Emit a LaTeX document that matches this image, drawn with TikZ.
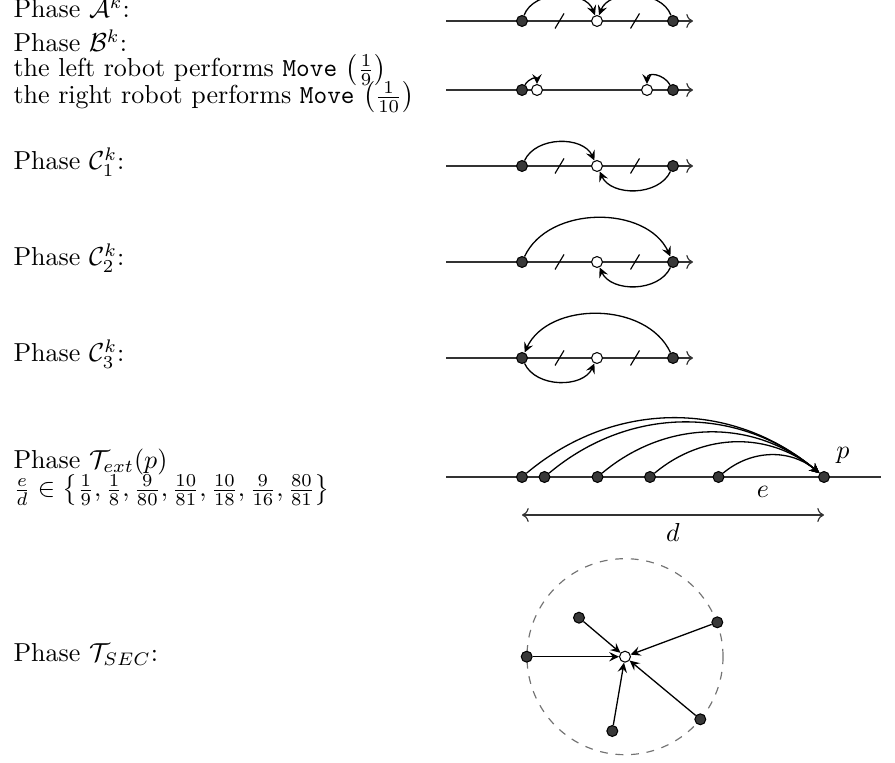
\documentclass[tikz,border=0pt]{standalone}
\usetikzlibrary{arrows.meta,calc}
\begin{document}
\begin{tikzpicture}[x=0.3846pt,y=0.3846pt,
  robot/.style={circle,draw=black,fill=black!78,minimum size=4.2pt,inner sep=0pt,line width=0.4pt},
  target/.style={circle,draw=black,fill=white,minimum size=4.2pt,inner sep=0pt,line width=0.4pt},
  axis/.style={draw=black!80,line width=0.45pt},
  mv/.style={line width=0.5pt,-{Stealth[length=3.8pt,width=3.6pt,inset=1.4pt]}},
  lbl/.style={anchor=base west,inner sep=0pt},
  tickm/.style={line width=0.45pt}]
\useasboundingbox (0,0) rectangle (895,762);

% ---------- Phase A
\node[lbl] (tA) at (13,744) {Phase $\mathcal{A}^k$:};
\coordinate (A0) at (446,741); \coordinate (A1) at (693,741);
\draw[axis,->] (A0) -- (A1);
\node[robot] (a1) at (522,741) {};
\node[target] (aw) at (597,741) {};
\node[robot] (a2) at (673,741) {};
\draw[tickm] ($(a1)!0.5!(aw)$) ++(-4.5,-7.5) -- ++(9,15);
\draw[tickm] ($(aw)!0.5!(a2)$) ++(-4.5,-7.5) -- ++(9,15);
\draw[mv] (a1) to[out=70,in=110] (aw);
\draw[mv] (a2) to[out=110,in=70] (aw);

% ---------- Phase B
\node[lbl] (tB) at (13,710) {Phase $\mathcal{B}^k$:};
\node[lbl] (tB1) at (13,685) {the left robot performs \texttt{Move} $\left(\frac{1}{9}\right)$};
\node[lbl] (tB2) at (13,658) {the right robot performs \texttt{Move} $\left(\frac{1}{10}\right)$};
\coordinate (B0) at (446,672); \coordinate (B1) at (693,672);
\draw[axis,->] (B0) -- (B1);
\node[robot] (b1) at (522,672) {};
\node[target] (bw1) at (537,672) {};
\node[target] (bw2) at (647,672) {};
\node[robot] (b2) at (673,672) {};
\draw[mv] (b1) to[out=60,in=90,looseness=1.6] (bw1);
\draw[mv] (b2) to[out=120,in=90,looseness=1.4] (bw2);

% ---------- Phase C1
\node[lbl] (tC1) at (13,592) {Phase $\mathcal{C}_1^k$:};
\coordinate (C10) at (446,596); \coordinate (C11) at (693,596);
\draw[axis,->] (C10) -- (C11);
\node[robot] (c1a) at (522,596) {};
\node[target] (c1w) at (597,596) {};
\node[robot] (c1b) at (673,596) {};
\draw[tickm] ($(c1a)!0.5!(c1w)$) ++(-4.5,-7.5) -- ++(9,15);
\draw[tickm] ($(c1w)!0.5!(c1b)$) ++(-4.5,-7.5) -- ++(9,15);
\draw[mv] (c1a) to[out=65,in=115] (c1w);
\draw[mv] (c1b) to[out=-115,in=-65] (c1w);

% ---------- Phase C2
\node[lbl] (tC2) at (13,496) {Phase $\mathcal{C}_2^k$:};
\coordinate (C20) at (446,500); \coordinate (C21) at (693,500);
\draw[axis,->] (C20) -- (C21);
\node[robot] (c2a) at (522,500) {};
\node[target] (c2w) at (597,500) {};
\node[robot] (c2b) at (673,500) {};
\draw[tickm] ($(c2a)!0.5!(c2w)$) ++(-4.5,-7.5) -- ++(9,15);
\draw[tickm] ($(c2w)!0.5!(c2b)$) ++(-4.5,-7.5) -- ++(9,15);
\draw[mv] (c2a) to[out=65,in=115] (c2b);
\draw[mv] (c2b) to[out=-115,in=-65] (c2w);

% ---------- Phase C3
\node[lbl] (tC3) at (13,400) {Phase $\mathcal{C}_3^k$:};
\coordinate (C30) at (446,404); \coordinate (C31) at (693,404);
\draw[axis,->] (C30) -- (C31);
\node[robot] (c3a) at (522,404) {};
\node[target] (c3w) at (597,404) {};
\node[robot] (c3b) at (673,404) {};
\draw[tickm] ($(c3a)!0.5!(c3w)$) ++(-4.5,-7.5) -- ++(9,15);
\draw[tickm] ($(c3w)!0.5!(c3b)$) ++(-4.5,-7.5) -- ++(9,15);
\draw[mv] (c3b) to[out=115,in=65] (c3a);
\draw[mv] (c3a) to[out=-65,in=-115] (c3w);

% ---------- Phase T_ext
\node[lbl] (tT) at (13,293) {Phase $\mathcal{T}_{ext}(p)$};
\node[lbl] (tT2) at (13,265) {$\frac{e}{d}\in\left\{\frac{1}{9},\frac{1}{8},\frac{9}{80},\frac{10}{81},\frac{10}{18},\frac{9}{16},\frac{80}{81}\right\}$};
\coordinate (T0) at (446,285); \coordinate (T1) at (881,285);
\draw[axis] (T0) -- (T1);
\node[robot] (t1) at (522,285) {};
\node[robot] (t2) at (544.5,285) {};
\node[robot] (t3) at (597.5,285) {};
\node[robot] (t4) at (650,285) {};
\node[robot] (t5) at (718.5,285) {};
\node[robot] (tp) at (824,285) {};
\foreach \s in {t1,t2,t3,t4,t5}
  \draw[mv] (\s) to[out=40,in=140] (tp);
\node (lp) at (843,307) {$p$};
\node (le) at (763,270) {$e$};
\coordinate (D0) at (522,247); \coordinate (D1) at (824,247);
\draw[axis,<->] (D0) -- (D1);
\node (ld) at (673,230) {$d$};

% ---------- Phase T_SEC
\node[lbl] (tS) at (13,100) {Phase $\mathcal{T}_{SEC}$:};
\node[target] (sw) at (625,105.3) {};
\draw[dashed,draw=black!55,line width=0.45pt] (sw.center) circle[radius=37.7pt];
\node[robot] (s1) at (579,144.3) {};
\node[robot] (s2) at (717.3,139.7) {};
\node[robot] (s3) at (526.7,105.3) {};
\node[robot] (s4) at (612.3,31) {};
\node[robot] (s5) at (700.3,42.7) {};
\foreach \s in {s1,s2,s3,s4,s5}
  \draw[mv] (\s) -- (sw);
\end{tikzpicture}
\end{document}
